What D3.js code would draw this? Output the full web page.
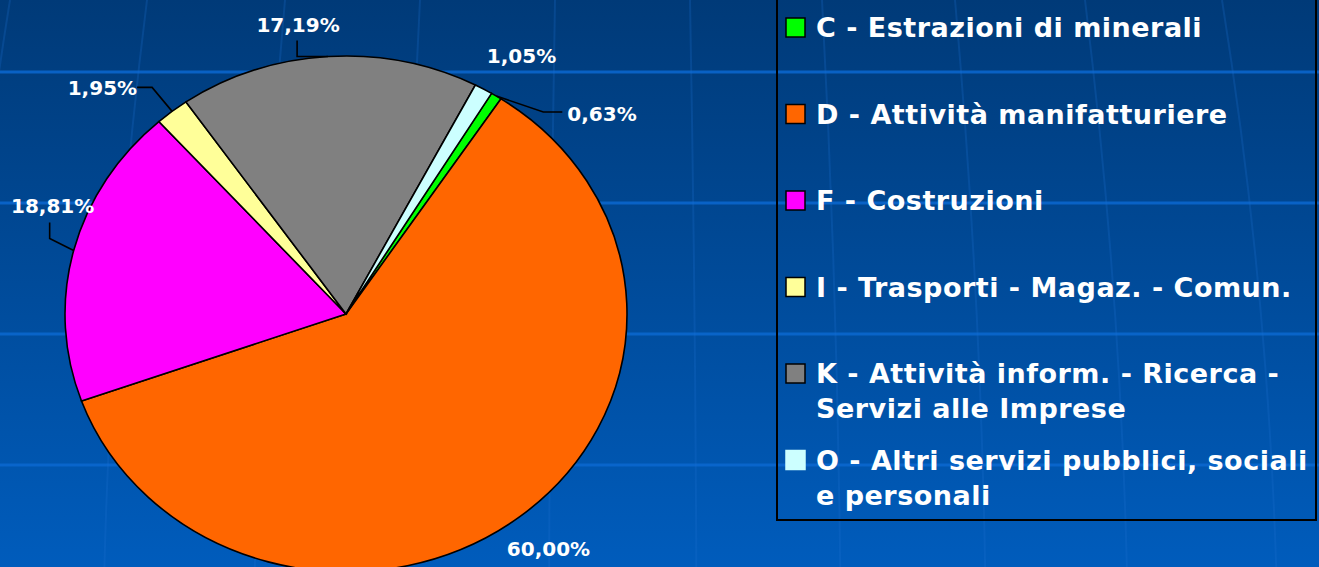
<!DOCTYPE html>
<html><head><meta charset="utf-8">
<script src="https://cdn.jsdelivr.net/npm/d3@7"></script>
<style>html,body{margin:0;padding:0;overflow:hidden;background:#004a96}</style>
</head><body><svg id="c" width="1319" height="567"></svg>
<script>
// ---- data ----
const categories = ["C", "D", "F", "I", "K", "O"];
const legendLines = [
  ["C - Estrazioni di minerali"],
  ["D - Attività manifatturiere"],
  ["F - Costruzioni"],
  ["I - Trasporti - Magaz. - Comun."],
  ["K - Attività inform. - Ricerca -", "Servizi alle Imprese"],
  ["O - Altri servizi pubblici, sociali", "e personali"]
];
const values = [0.63, 60.00, 18.81, 1.95, 17.19, 1.05];
const valueLabels = ["0,63%", "60,00%", "18,81%", "1,95%", "17,19%", "1,05%"];
const colors = ["#00ff00", "#ff6600", "#ff00ff", "#ffff99", "#808080", "#ccffff"];
const borders = ["#000", "#000", "#000", "#000", "#000", "#ccffff"];

// ---- layout ----
const W = 1319, H = 567;
const cx = 346, cy = 314, R = 281, ry = 0.918;
const startDeg = 31.2;
// label layout relative to slice edge point: leader elbow/end, text anchor
const labelLayout = [
  {leader: [[47, 16], [66, 16]], text: [71, 25], anchor: "start"},
  {leader: null, text: [29, 39], anchor: "middle"},
  {leader: [[-24, -12], [-24, -28]], text: [-21, -37], anchor: "middle"},
  {leader: [[-20, -24], [-35, -24]], text: [-35, -16], anchor: "end"},
  {leader: [[-31, 0], [-31, -16]], text: [-30, -25], anchor: "middle"},
  {leader: null, text: [38, -26], anchor: "middle"}
];

const svg = d3.select("#c");
const defs = svg.append("defs");
const g = defs.append("linearGradient").attr("id", "bg").attr("x1", 0).attr("y1", 0).attr("x2", 0).attr("y2", 1);
g.append("stop").attr("offset", "0%").attr("stop-color", "#003a78");
g.append("stop").attr("offset", "100%").attr("stop-color", "#005cbc");
svg.append("rect").attr("width", W).attr("height", H).attr("fill", "url(#bg)");

// background grid (slide template)
const hLines = [72, 203, 334, 465];
svg.selectAll("line.h").data(hLines).enter().append("line")
  .attr("x1", 0).attr("x2", W).attr("y1", d => d).attr("y2", d => d)
  .attr("stroke", "#0b68d0").attr("stroke-width", 3).attr("opacity", 0.85);
const vLines = [10, 147, 285, 420, 555, 690, 822, 955, 1085, 1222];
svg.selectAll("path.v").data(vLines).enter().append("path")
  .attr("d", d => {
    const xb = d + (d - 620) * 0.09;
    const xm = (d + xb) / 2 + (d - 620) * 0.03;
    return `M${d},0 Q${xm},${H / 2} ${xb},${H}`;
  })
  .attr("fill", "none").attr("stroke", "#1a70d0").attr("stroke-width", 2).attr("opacity", 0.25);

// pie
const start = startDeg * Math.PI / 180;
const pie = d3.pie().sort(null).value(d => d).startAngle(start).endAngle(start + 2 * Math.PI);
const arcs = pie(values);
const arc = d3.arc().innerRadius(0).outerRadius(R);
const pg = svg.append("g").attr("transform", `translate(${cx},${cy}) scale(1,${ry})`);
pg.selectAll("path").data(arcs).enter().append("path")
  .attr("d", arc)
  .attr("fill", (d, i) => colors[i])
  .attr("stroke", "#000").attr("stroke-width", 1.6)
  .attr("vector-effect", "non-scaling-stroke");

// labels
const edge = a => [cx + R * Math.sin(a), cy - R * ry * Math.cos(a)];
arcs.forEach((d, i) => {
  const mid = (d.startAngle + d.endAngle) / 2;
  const [ex, ey] = edge(mid);
  const L = labelLayout[i];
  if (L.leader) {
    const pts = [[ex, ey]].concat(L.leader.map(p => [ex + p[0], ey + p[1]]));
    svg.append("path").attr("d", d3.line()(pts)).attr("fill", "none")
      .attr("stroke", "#000").attr("stroke-width", 1.6);
  }
  svg.append("text").attr("x", ex + L.text[0]).attr("y", ey + L.text[1])
    .attr("text-anchor", L.anchor)
    .attr("font-family", "DejaVu Sans").attr("font-weight", "bold").attr("font-size", 20)
    .attr("fill", "#fff").text(valueLabels[i]);
});

// legend
const lg = svg.append("g");
lg.append("rect").attr("x", 777).attr("y", -5).attr("width", 539).attr("height", 525)
  .attr("fill", "none").attr("stroke", "#000").attr("stroke-width", 2);
const rowY = d3.scaleLinear().domain([0, 5]).range([37, 469.5]);
categories.forEach((c, i) => {
  const y = rowY(i);
  lg.append("rect").attr("x", 786).attr("y", y - 19).attr("width", 19).attr("height", 19)
    .attr("fill", colors[i]).attr("stroke", borders[i]).attr("stroke-width", 1.5);
  legendLines[i].forEach((t, j) => {
    lg.append("text").attr("x", 816).attr("y", y + j * 35)
      .attr("font-family", "DejaVu Sans").attr("font-weight", "bold").attr("font-size", 27)
      .attr("letter-spacing", 0.5)
      .attr("fill", "#fff").text(t);
  });
});
</script></body></html>
